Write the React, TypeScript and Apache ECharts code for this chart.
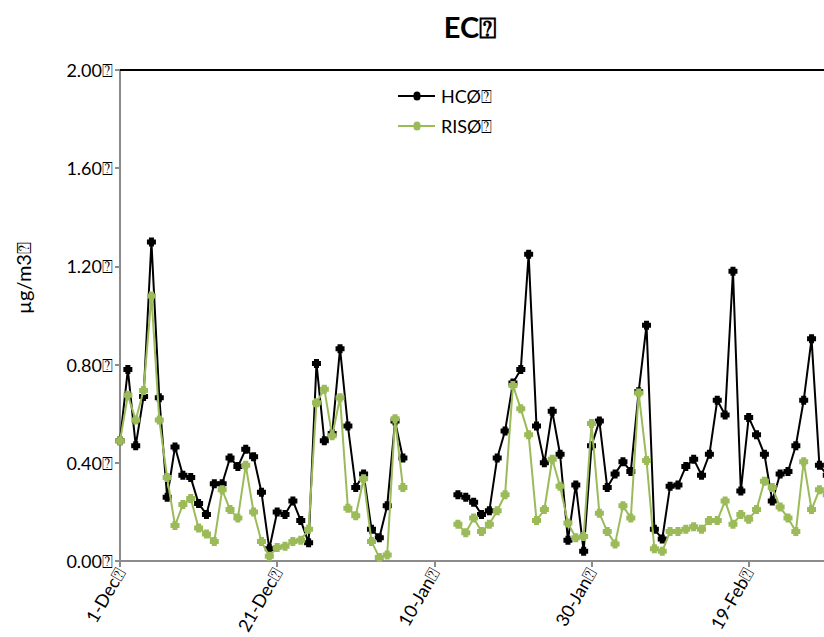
import React, { useEffect, useRef } from "react";
import * as echarts from "echarts";

const BOX = "\u2370";
const TITLE = "EC" + BOX;
const Y_NAME = "\u00b5g/m3" + BOX;
const SERIES_NAMES = ["HC\u00d8" + BOX, "RIS\u00d8" + BOX];
const MONTHS = ["Dec", "Jan", "Feb", "Mar"];
const MONTH_DAYS = [31, 31, 28, 10];
const Y_TICKS = [0, 0.4, 0.8, 1.2, 1.6, 2.0];

const categories: string[] = [];
MONTHS.forEach((m, i) => {
  for (let d = 1; d <= MONTH_DAYS[i]; d++) categories.push(d + "-" + m + BOX);
});

const hcoPart1 = [
  0.49, 0.78, 0.47, 0.67, 1.3, 0.665, 0.26, 0.465, 0.35, 0.34, 0.235, 0.19, 0.315, 0.315, 0.42, 0.385,
  0.455, 0.425, 0.28, 0.05, 0.2, 0.19, 0.245, 0.165, 0.075, 0.805, 0.49, 0.52, 0.865, 0.55, 0.3, 0.355,
  0.13, 0.095, 0.225, 0.57, 0.42,
];
const gap = [null, null, null, null, null, null];
const hcoPart2 = [
  0.27, 0.26, 0.24, 0.19, 0.205, 0.42, 0.53, 0.725, 0.78, 1.25, 0.55, 0.4, 0.61, 0.435, 0.085, 0.31,
  0.04, 0.47, 0.57, 0.3, 0.355, 0.405, 0.365, 0.69, 0.96, 0.13, 0.09, 0.305, 0.31, 0.385, 0.415, 0.35,
  0.435, 0.655, 0.595, 1.18, 0.285, 0.585, 0.515, 0.435, 0.245, 0.355, 0.365, 0.47, 0.655, 0.905, 0.39,
  0.35,
];
const risoPart1 = [
  0.49, 0.675, 0.575, 0.695, 1.08, 0.575, 0.34, 0.145, 0.23, 0.255, 0.135, 0.11, 0.08, 0.29, 0.21, 0.175,
  0.39, 0.2, 0.08, 0.02, 0.055, 0.06, 0.08, 0.085, 0.13, 0.645, 0.7, 0.51, 0.665, 0.215, 0.185, 0.335,
  0.08, 0.015, 0.025, 0.58, 0.3,
];
const risoPart2 = [
  0.15, 0.115, 0.175, 0.12, 0.15, 0.205, 0.27, 0.715, 0.62, 0.515, 0.165, 0.21, 0.415, 0.305, 0.155,
  0.095, 0.1, 0.56, 0.195, 0.12, 0.07, 0.225, 0.175, 0.685, 0.41, 0.05, 0.04, 0.12, 0.12, 0.13, 0.14,
  0.13, 0.165, 0.165, 0.245, 0.15, 0.19, 0.17, 0.21, 0.325, 0.3, 0.22, 0.175, 0.12, 0.405, 0.21, 0.29,
  0.27,
];
const hco = [...hcoPart1, ...gap, ...hcoPart2];
const riso = [...risoPart1, ...gap, ...risoPart2];

const FONT = "Lato, 'Open Sans', sans-serif";
const MARK = "path://M2,0H7V2H9V7H7V9H2V7H0V2H2Z";

export default function App() {
  const ref = useRef<HTMLDivElement>(null);
  useEffect(() => {
    if (!ref.current) return;
    const chart = echarts.init(ref.current, undefined, { renderer: "svg" });
    const axisGray = "#8c8c8c";
    chart.setOption({
      animation: false,
      backgroundColor: "#ffffff",
      textStyle: { fontFamily: FONT },
      title: {
        text: TITLE,
        left: "center",
        top: 7,
        textStyle: { fontFamily: FONT, fontSize: 29, fontWeight: "bold", color: "#000" },
      },
      legend: {
        orient: "vertical",
        left: 398,
        top: 87,
        padding: 0,
        itemGap: 12,
        itemWidth: 37,
        itemHeight: 15,
        textStyle: { fontFamily: FONT, fontSize: 18, color: "#000", padding: [0, 0, 0, 1] },
        data: SERIES_NAMES.map((n) => ({
          name: n,
          icon: "path://M0,7H15.5A3.5,3.5 0 1 1 22.5,7H37V9H22.5A3.5,3.5 0 1 1 15.5,9H0Z",
        })),
      },
      grid: { left: 120, top: 70, width: 778, bottom: 74, containLabel: false },
      graphic: [
        {
          type: "text",
          x: 23,
          y: 278,
          rotation: Math.PI / 2,
          style: {
            text: Y_NAME,
            fontFamily: FONT,
            fontSize: 20,
            fill: "#000",
            align: "center",
            verticalAlign: "middle",
          },
        },
      ],
      xAxis: [
        {
          type: "category",
          data: categories,
          boundaryGap: false,
          axisLine: { lineStyle: { color: axisGray, width: 2 } },
          axisTick: { interval: 19, length: 6, lineStyle: { color: axisGray, width: 2 } },
          axisLabel: {
            interval: 19,
            rotate: 60,
            fontFamily: FONT,
            fontSize: 18,
            color: "#000",
            margin: 8,
          },
          splitLine: { show: false },
        },
        {
          type: "category",
          position: "top",
          data: categories,
          boundaryGap: false,
          axisLine: { lineStyle: { color: "#000", width: 2 } },
          axisTick: { show: false },
          axisLabel: { show: false },
        },
      ],
      yAxis: {
        type: "value",
        min: 0,
        max: 2,
        interval: 0.4,
        axisLine: { show: true, lineStyle: { color: axisGray, width: 2 } },
        axisTick: { show: true, length: 5, lineStyle: { color: axisGray, width: 2 } },
        axisLabel: {
          fontFamily: FONT,
          fontSize: 18,
          color: "#000",
          margin: 7,
          formatter: (v: number) => (Y_TICKS.some((t) => Math.abs(t - v) < 1e-9) ? v.toFixed(2) + BOX : ""),
        },
        splitLine: { show: false },
      },
      series: [
        {
          name: SERIES_NAMES[0],
          type: "line",
          data: hco,
          connectNulls: false,
          symbol: MARK,
          symbolSize: 9,
          showAllSymbol: true,
          lineStyle: { color: "#000000", width: 2 },
          itemStyle: { color: "#000000" },
          z: 2,
        },
        {
          name: SERIES_NAMES[1],
          type: "line",
          data: riso,
          connectNulls: false,
          symbol: MARK,
          symbolSize: 9,
          showAllSymbol: true,
          lineStyle: { color: "#9bbb59", width: 2 },
          itemStyle: { color: "#9bbb59" },
          z: 3,
        },
      ],
    });
    return () => chart.dispose();
  }, []);
  return (
    <div
      ref={ref}
      style={{ position: "fixed", left: 0, top: 0, width: 940, height: 637, background: "#fff" }}
    />
  );
}
